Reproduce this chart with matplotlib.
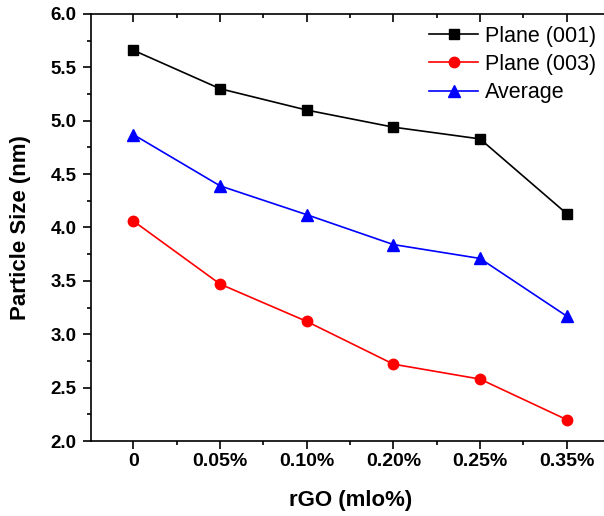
import matplotlib
matplotlib.use("Agg")
import matplotlib.pyplot as plt
from matplotlib.ticker import MultipleLocator

plt.rcParams['font.family'] = ['Liberation Sans', 'DejaVu Sans']

# 数据
categories = ['0', '0.05%', '0.10%', '0.20%', '0.25%', '0.35%']
plane_001 = [5.66, 5.30, 5.10, 4.94, 4.83, 4.13]
plane_003 = [4.06, 3.47, 3.12, 2.72, 2.58, 2.20]
average = [4.87, 4.39, 4.12, 3.84, 3.71, 3.17]

x = list(range(len(categories)))

fig = plt.figure(figsize=(6.04, 5.16), dpi=100)
# 右边框被裁掉，所以 axes 超出画布
ax = fig.add_axes([91 / 604, 1 - 441 / 516, 519 / 604, 427 / 516])

ax.plot(x, plane_001, 'k-s', lw=1.2, ms=7, label='Plane (001)')
ax.plot(x, plane_003, '-o', color='red', lw=1.2, ms=7.5, label='Plane (003)')
ax.plot(x, average, '-^', color='blue', lw=1.2, ms=8, label='Average')

ax.set_xlim(-0.49, 5.5)
ax.set_ylim(2.0, 6.0)
ax.set_xticks(x)
ax.set_xticklabels(categories)
ax.xaxis.set_minor_locator(MultipleLocator(0.5))
ax.yaxis.set_major_locator(MultipleLocator(0.5))
ax.yaxis.set_minor_locator(MultipleLocator(0.25))

for lab in ax.get_xticklabels():
    lab.set_fontweight('bold')
    lab.set_fontsize(14)
for lab in ax.get_yticklabels():
    lab.set_fontweight('bold')
    lab.set_fontsize(13.5)

ax.tick_params(which='both', direction='out', top=True, right=True, width=1.2)
ax.tick_params(which='major', length=6)
ax.tick_params(which='minor', length=3)
ax.tick_params(axis='y', which='major', pad=4.5)
ax.tick_params(axis='x', which='major', pad=3)
# 顶部刻度朝内
for t in ax.xaxis.get_major_ticks() + ax.xaxis.get_minor_ticks():
    t.tick2line.set_marker(3)
for sp in ax.spines.values():
    sp.set_linewidth(1.2)

ax.set_xlabel('rGO (mlo%)', fontsize=16, fontweight='bold', labelpad=14)
ax.set_ylabel('Particle Size (nm)', fontsize=16, fontweight='bold', labelpad=14)

ax.legend(loc='upper left', bbox_to_anchor=(0.628, 1.0), frameon=False,
          fontsize=15.5, handlelength=2.3, labelspacing=0.33, borderaxespad=0.15,
          handletextpad=0.32)

fig.savefig('out.png', dpi=100)
